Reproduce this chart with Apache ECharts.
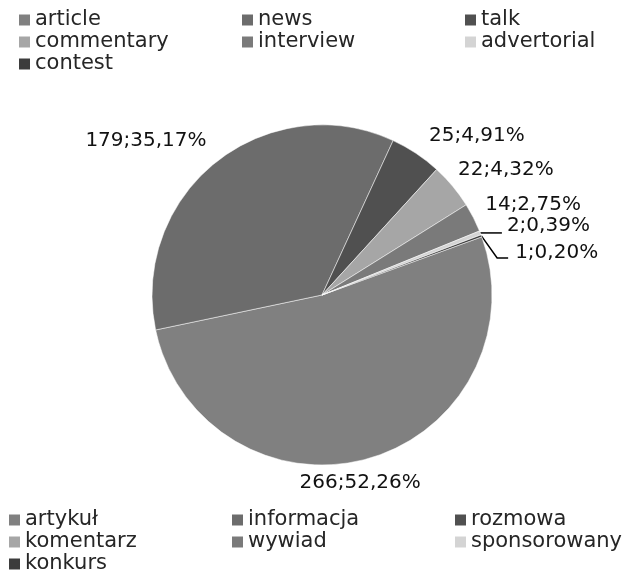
<!DOCTYPE html>
<html>
<head>
<meta charset="utf-8">
<script src="https://cdn.jsdelivr.net/npm/echarts@6/dist/echarts.min.js"></script>
<style>
  html, body { margin: 0; padding: 0; background: #fff; }
  #chart { width: 630px; height: 580px; }
</style>
</head>
<body>
<div id="chart"></div>
<script>
// Article types and their counts
const categories = ['article', 'news', 'talk', 'commentary', 'interview', 'advertorial', 'contest'];
const categoriesPl = ['artykuł', 'informacja', 'rozmowa', 'komentarz', 'wywiad', 'sponsorowany', 'konkurs'];
const counts = [266, 179, 25, 22, 14, 2, 1];

// Grey shades, one per slice
const sliceColors = ['#808080', '#6c6c6c', '#505050', '#a6a6a6', '#7a7a7a', '#d4d4d4', '#3c3c3c'];

// Nudges (dx, dy) applied to each label from its default outside position
const labelNudge = [[-19, 5], [8, -6], [-3, -1], [-15, -4], [-11, -4], [3, 0], [10, 24]];

const FONT = 'DejaVu Sans';

const chart = echarts.init(document.getElementById('chart'), null, { renderer: 'canvas' });

const pieData = categories.map((name, i) => ({
  name: name,
  value: counts[i],
  labelLine: { show: i >= 5 }
}));

function legendBlock(top, left, names) {
  return {
    data: categories,
    formatter: (name) => names[categories.indexOf(name)],
    orient: 'horizontal',
    left: left,
    top: top,
    width: 680,
    padding: 0,
    itemGap: 0,
    itemWidth: 11,
    itemHeight: 11,
    icon: 'rect',
    itemStyle: { borderWidth: 0 },
    selectedMode: false,
    textStyle: {
      fontFamily: FONT,
      fontSize: 21,
      color: '#262626',
      width: 207,
      lineHeight: 22,
      padding: 0
    }
  };
}

chart.setOption({
  animation: false,
  color: sliceColors,
  legend: [
    legendBlock(9, 19, categories),
    legendBlock(509, 9, categoriesPl)
  ],
  series: [{
    type: 'pie',
    center: [322, 295],
    radius: 170,
    startAngle: 20,
    clockwise: true,
    avoidLabelOverlap: false,
    silent: true,
    itemStyle: { borderColor: '#ffffff', borderWidth: 0.5 },
    label: {
      show: true,
      position: 'outside',
      fontFamily: FONT,
      fontSize: 20,
      color: '#111',
      distanceToLabelLine: 5,
      formatter: (p) => p.value + ';' + p.percent.toFixed(2).replace('.', ',') + '%'
    },
    labelLine: {
      show: false,
      length: 20,
      length2: 0,
      smooth: false,
      lineStyle: { color: '#000', width: 1.5 }
    },
    labelLayout: function (p) {
      const i = p.dataIndex;
      const n = labelNudge[i];
      const out = { dx: n[0], dy: n[1] };
      if (i === 0) out.align = 'center';
      if (p.labelLinePoints && p.labelLinePoints.length) {
        const start = p.labelLinePoints[0];
        const left = p.labelRect.x + n[0];
        const midY = p.labelRect.y + p.labelRect.height / 2 + n[1];
        if (i === 5) out.labelLinePoints = [start, [left - 5, start[1]]];
        if (i === 6) out.labelLinePoints = [start, [left - 18, midY + 5], [left - 7, midY + 5]];
      }
      return out;
    },
    emphasis: { disabled: true },
    data: pieData
  }]
});
</script>
</body>
</html>
